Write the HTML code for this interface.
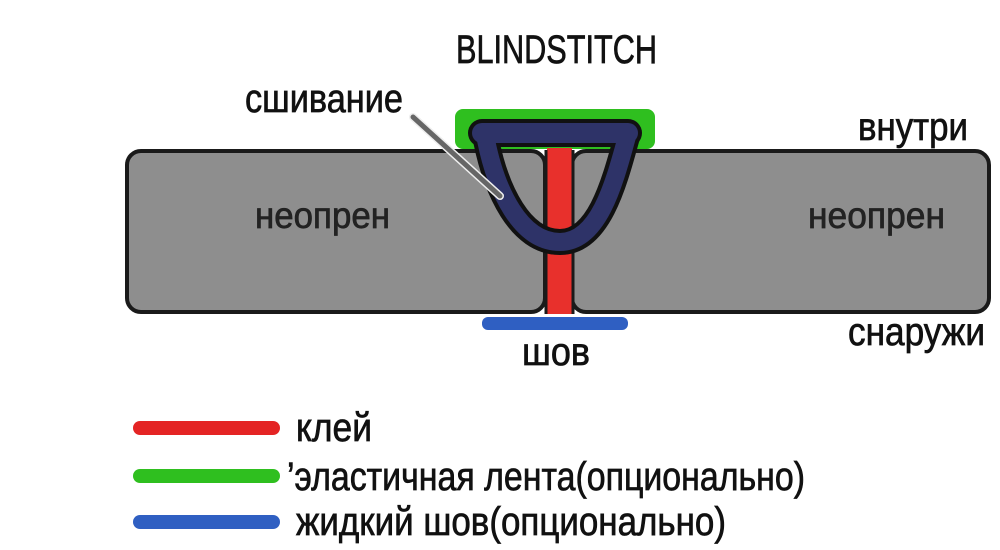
<!DOCTYPE html>
<html><head><meta charset="utf-8"><style>
html,body{margin:0;padding:0;background:#fff;}
svg{display:block;}
text{font-family:"Liberation Sans Narrow","Liberation Sans","DejaVu Sans",sans-serif;stroke-width:0.7;}
</style></head><body>
<svg width="1000" height="550" viewBox="0 0 1000 550" xmlns="http://www.w3.org/2000/svg">
<rect width="1000" height="550" fill="#fff"/>
<text x="456" y="63" font-size="40" fill="#111" stroke="#111" textLength="201" lengthAdjust="spacingAndGlyphs">BLINDSTITCH</text>
<text x="245" y="112" font-size="40" fill="#111" stroke="#111" textLength="158" lengthAdjust="spacingAndGlyphs">сшивание</text>
<text x="858" y="140" font-size="39" fill="#111" stroke="#111" textLength="110" lengthAdjust="spacingAndGlyphs">внутри</text>
<text x="848" y="345" font-size="39" fill="#111" stroke="#111" textLength="137" lengthAdjust="spacingAndGlyphs">снаружи</text>
<text x="522" y="365" font-size="39" fill="#111" stroke="#111" textLength="68" lengthAdjust="spacingAndGlyphs">шов</text>
<rect x="455" y="109" width="200" height="40" rx="8" fill="#2fbf1f"/>
<rect x="127" y="151" width="418" height="161" rx="14" fill="#8e8e8e" stroke="#1a1a1a" stroke-width="4"/>
<rect x="572" y="151" width="417" height="161" rx="14" fill="#8e8e8e" stroke="#1a1a1a" stroke-width="4"/>
<rect x="547" y="148" width="25" height="166" fill="#e8302c"/>
<line x1="546" y1="150" x2="546" y2="314" stroke="#1a1a1a" stroke-width="3"/>
<line x1="573" y1="150" x2="573" y2="314" stroke="#1a1a1a" stroke-width="3"/>
<text x="255" y="228" font-size="37" fill="#222" stroke="#222" textLength="135" lengthAdjust="spacingAndGlyphs">неопрен</text>
<text x="808" y="228" font-size="37" fill="#222" stroke="#222" textLength="137" lengthAdjust="spacingAndGlyphs">неопрен</text>
<rect x="482" y="317" width="146" height="13" rx="6" fill="#2f5fc2"/>
<g fill="none" stroke-linecap="round" stroke-linejoin="round">
<path d="M486 140 C496 190 520 242 560 242 C600 242 615 180 628 133" stroke="#111" stroke-width="26"/>
<line x1="482" y1="133" x2="628" y2="133" stroke="#111" stroke-width="28"/>
<path d="M486 140 C496 190 520 242 560 242 C600 242 615 180 628 133" stroke="#2e3368" stroke-width="18"/>
<line x1="482" y1="133" x2="628" y2="133" stroke="#2e3368" stroke-width="20"/>
<line x1="413" y1="117" x2="500" y2="196" stroke="#eee" stroke-width="8"/>
<line x1="413" y1="117" x2="500" y2="196" stroke="#666" stroke-width="5"/>
</g>
<line x1="140" y1="428" x2="273" y2="428" stroke="#e42424" stroke-width="14" stroke-linecap="round"/>
<line x1="140" y1="476" x2="273" y2="476" stroke="#2fbf1f" stroke-width="14" stroke-linecap="round"/>
<line x1="140" y1="522" x2="273" y2="522" stroke="#2f5fc2" stroke-width="14" stroke-linecap="round"/>
<text x="296" y="441" font-size="40" fill="#111" stroke="#111" textLength="76" lengthAdjust="spacingAndGlyphs">клей</text>
<text x="287" y="490" font-size="40" fill="#111" stroke="#111" textLength="518" lengthAdjust="spacingAndGlyphs">’эластичная лента(опционально)</text>
<text x="296" y="535" font-size="40" fill="#111" stroke="#111" textLength="430" lengthAdjust="spacingAndGlyphs">жидкий шов(опционально)</text>
</svg>
</body></html>
